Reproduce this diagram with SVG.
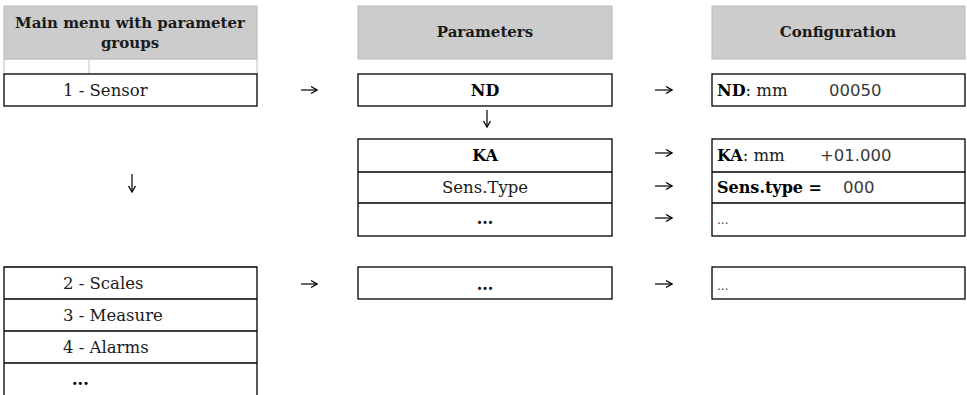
<svg xmlns="http://www.w3.org/2000/svg" width="967" height="395" viewBox="0 0 967 395">
<defs>
<marker id="ah" viewBox="0 0 10 10" refX="9" refY="5" markerWidth="10" markerHeight="10" markerUnits="userSpaceOnUse" orient="auto">
<path d="M3 1.5 L9 5 L3 8.5" fill="none" stroke="#000" stroke-width="1.3"/>
</marker>
</defs>
<style>
.hdr{fill:#cccccc;stroke:#b8b8b8;stroke-width:1}
.box{fill:#ffffff;stroke:#000;stroke-width:1.3}
.thin{fill:none;stroke:#c4c4c4;stroke-width:1}
.t{font-family:"DejaVu Serif","Liberation Serif",serif;font-size:16.5px;fill:#1a1a1a}
.h{font-family:"DejaVu Serif","Liberation Serif",serif;font-size:15px;font-weight:bold;fill:#1a1a1a}
.b{font-family:"DejaVu Serif","Liberation Serif",serif;font-size:16px;font-weight:bold;fill:#000}
.s{font-family:"DejaVu Sans","Liberation Sans",sans-serif;font-size:16.5px;fill:#3a3a3a}
.m{text-anchor:middle}
.c{fill:none;stroke:#000;stroke-width:1.2;marker-end:url(#ah)}
</style>
<g id="hdr-main">
<rect class="hdr" x="4" y="6" width="253" height="53"/>
<text class="h m" x="130" y="28">Main menu with parameter</text>
<text class="h m" x="130" y="48">groups</text>
<rect class="thin" x="4" y="59" width="253" height="15"/>
<line class="thin" x1="89" y1="59" x2="89" y2="74"/>
</g>
<g id="hdr-params">
<rect class="hdr" x="358" y="6" width="254" height="53"/>
<text class="h m" x="485" y="37">Parameters</text>
</g>
<g id="hdr-config">
<rect class="hdr" x="712" y="6" width="253" height="53"/>
<text class="h m" x="838" y="37">Configuration</text>
</g>
<g id="menu-sensor">
<rect class="box" x="4" y="74" width="253" height="32"/>
<text class="t" x="63" y="96">1 - Sensor</text>
</g>
<g id="param-nd">
<rect class="box" x="358" y="74" width="254" height="32"/>
<text class="b m" x="485" y="96">ND</text>
</g>
<g id="config-nd">
<rect class="box" x="712" y="74" width="253" height="32"/>
<text class="t" x="717" y="96"><tspan class="b">ND</tspan>: mm</text>
<text class="s" x="829" y="96">00050</text>
</g>
<g id="param-list">
<rect class="box" x="358" y="139" width="254" height="97"/>
<line class="box" x1="358" y1="172" x2="612" y2="172"/>
<line class="box" x1="358" y1="203" x2="612" y2="203"/>
<text class="b m" x="485" y="161">KA</text>
<text class="t m" x="485" y="193">Sens.Type</text>
<text class="b m" x="485" y="224">...</text>
</g>
<g id="config-list">
<rect class="box" x="712" y="139" width="253" height="97"/>
<line class="box" x1="712" y1="172" x2="965" y2="172"/>
<line class="box" x1="712" y1="203" x2="965" y2="203"/>
<text class="t" x="717" y="161"><tspan class="b">KA</tspan>: mm</text>
<text class="s" x="820" y="161">+01.000</text>
<text class="b" x="717" y="193">Sens.type =</text>
<text class="s" x="843" y="193">000</text>
<text class="s" x="717" y="224" style="font-size:12px">...</text>
</g>
<g id="menu-list">
<path class="box" d="M4 396 V267 H257 V396"/>
<line class="box" x1="4" y1="299" x2="257" y2="299"/>
<line class="box" x1="4" y1="331" x2="257" y2="331"/>
<line class="box" x1="4" y1="363" x2="257" y2="363"/>
<text class="t" x="63" y="289">2 - Scales</text>
<text class="t" x="63" y="321">3 - Measure</text>
<text class="t" x="63" y="353">4 - Alarms</text>
<text class="b" x="72" y="385">...</text>
</g>
<g id="param-more">
<rect class="box" x="358" y="267" width="254" height="32"/>
<text class="b m" x="485" y="290">...</text>
</g>
<g id="config-more">
<rect class="box" x="712" y="267" width="253" height="32"/>
<text class="s" x="717" y="290" style="font-size:12px">...</text>
</g>
<g id="connectors">
<path class="c" d="M301 90 H317"/>
<path class="c" d="M655 90 H672"/>
<path class="c" d="M487 110 V127"/>
<path class="c" d="M132 174 V192"/>
<path class="c" d="M655 153 H672"/>
<path class="c" d="M655 186 H672"/>
<path class="c" d="M655 218 H672"/>
<path class="c" d="M301 284 H317"/>
<path class="c" d="M655 284 H672"/>
</g>
</svg>
